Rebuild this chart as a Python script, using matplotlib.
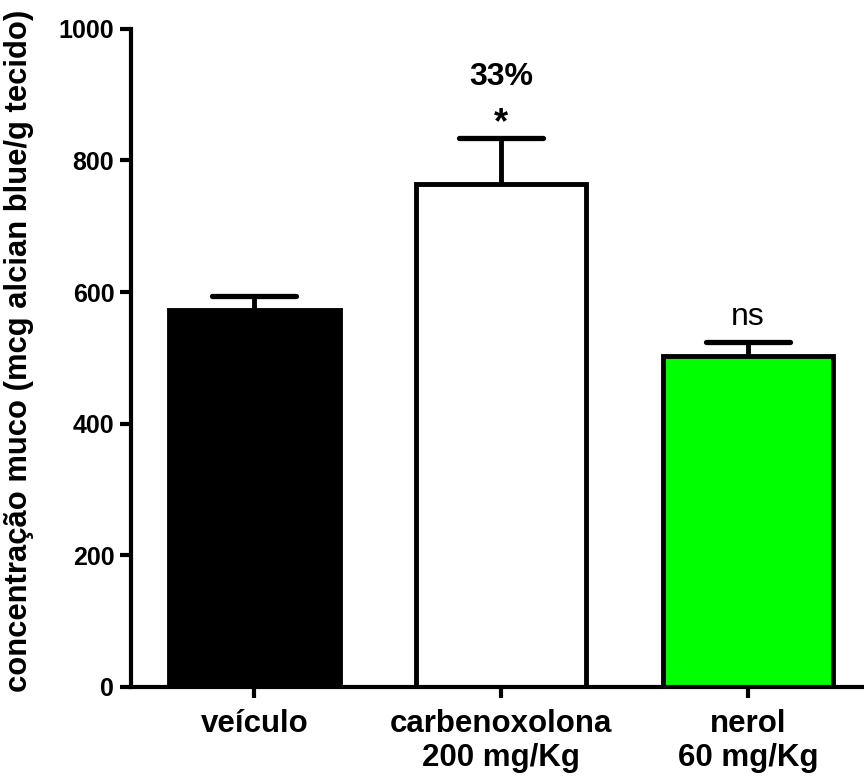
import matplotlib
matplotlib.use("Agg")
import matplotlib.pyplot as plt

plt.rcParams['font.family'] = ['Liberation Sans', 'DejaVu Sans']

categories = ["veículo", "carbenoxolona\n200 mg/Kg", "nerol\n60 mg/Kg"]
means = [573, 764, 503]
sem = [21, 70, 21]
colors = ["#000000", "#ffffff", "#00ff00"]
annotations = [None, "*", "ns"]
percent_label = [None, "33%", None]

fig = plt.figure(figsize=(8.64, 7.78), dpi=100)
ax = fig.add_axes([0.1516, 0.117, 0.8484, 0.846])

x = list(range(len(categories)))
bar_w = 0.69
cap_half = 0.17
ax.bar(x, means, width=bar_w, color=colors, edgecolor="black", linewidth=3.5, zorder=2)
# upper-only SEM whiskers, stem starting at bar top
for xi, m, e in zip(x, means, sem):
    ax.vlines(xi, m, m + e, colors="black", linewidth=3.5, zorder=1)
    ax.hlines(m + e, xi - cap_half, xi + cap_half, colors="black", linewidth=3.8,
              capstyle="round", zorder=1)

for xi, m, e, a, p in zip(x, means, sem, annotations, percent_label):
    top = m + e
    if a == "*":
        ax.text(xi, top + 22, a, ha="center", va="center", fontsize=26, fontweight="bold")
    elif a:
        ax.text(xi, top + 38, a, ha="center", va="center", fontsize=23)
    if p:
        ax.text(xi, top + 93, p, ha="center", va="center", fontsize=23, fontweight="bold")

ax.set_xlim(-0.5, 2.47)
ax.set_ylim(0, 1000)
ax.set_yticks([0, 200, 400, 600, 800, 1000])
ax.set_xticks(x)
ax.set_xticklabels(categories, fontsize=22.5, fontweight="bold", linespacing=1.15)
for lbl in ax.get_yticklabels():
    lbl.set_fontsize(18)
    lbl.set_fontweight("bold")

ax.spines["top"].set_visible(False)
ax.spines["right"].set_visible(False)
ax.spines["left"].set_linewidth(3)
ax.spines["bottom"].set_linewidth(3)
ax.tick_params(axis="both", direction="out", length=8, width=3, pad=4)
ax.tick_params(axis="x", pad=8)

ax.set_ylabel("concentração muco (mcg alcian blue/g tecido)", fontsize=22.3,
              fontweight="bold")
ax.yaxis.set_label_coords(-0.132, 0.51)

fig.savefig("out.png", dpi=100)
